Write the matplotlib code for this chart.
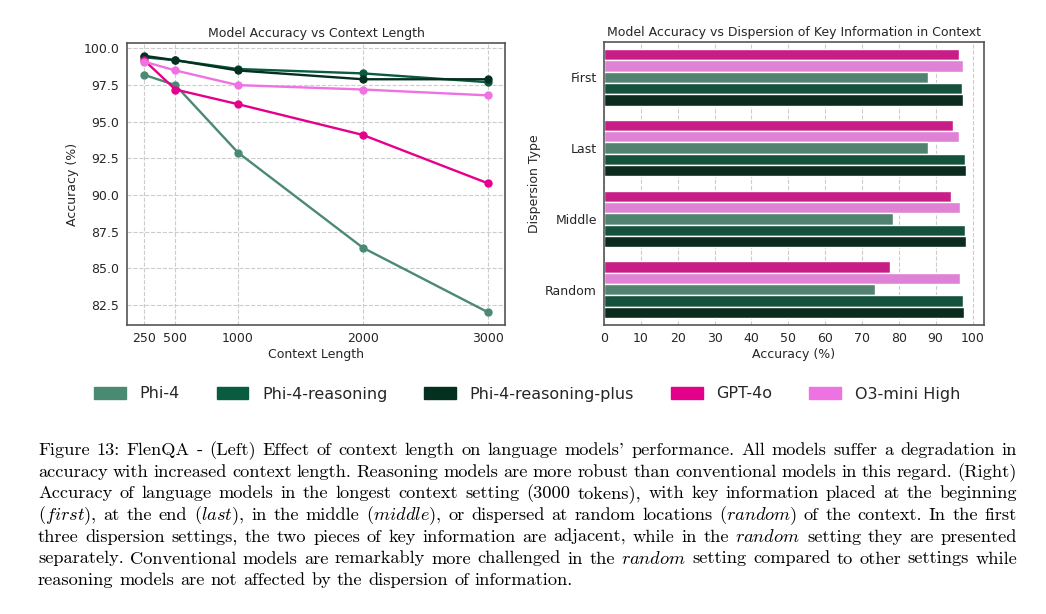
import numpy as np
import matplotlib
matplotlib.use('Agg')
import matplotlib.pyplot as plt
import seaborn as sns

W, H = 1046, 614

# ---- data ----
context_lengths = [250, 500, 1000, 2000, 3000]
acc_phi4 = [98.2, 97.5, 92.9, 86.4, 82.0]
acc_phi4_reasoning = [99.4, 99.2, 98.6, 98.3, 97.7]
acc_phi4_reasoning_plus = [99.5, 99.2, 98.5, 97.9, 97.9]
acc_gpt4o = [99.2, 97.2, 96.2, 94.1, 90.8]
acc_o3mini = [99.1, 98.5, 97.5, 97.2, 96.8]

dispersion_types = ['First', 'Last', 'Middle', 'Random']
disp_gpt4o = [96.4, 94.7, 94.2, 77.5]
disp_o3mini = [97.3, 96.4, 96.7, 96.6]
disp_phi4 = [87.8, 87.8, 78.3, 73.5]
disp_phi4_reasoning = [97.1, 97.9, 98.0, 97.3]
disp_phi4_reasoning_plus = [97.3, 98.1, 98.2, 97.6]

model_names = ['Phi-4', 'Phi-4-reasoning', 'Phi-4-reasoning-plus', 'GPT-4o', 'O3-mini High']
model_colors = ['#4a8a72', '#0a5c40', '#04301f', '#e5008c', '#ee72e2']

caption_lines = [
    "Figure 13: FlenQA - (Left) Effect of context length on language models' performance. All models suffer a degradation in",
    "accuracy with increased context length. Reasoning models are more robust than conventional models in this regard. (Right)",
    "Accuracy of language models in the longest context setting (3000 tokens), with key information placed at the beginning",
    r"($\mathit{first}$), at the end ($\mathit{last}$), in the middle ($\mathit{middle}$), or dispersed at random locations ($\mathit{random}$) of the context. In the first",
    r"three dispersion settings, the two pieces of key information are adjacent, while in the $\mathit{random}$ setting they are presented",
    r"separately. Conventional models are remarkably more challenged in the $\mathit{random}$ setting compared to other settings while",
    "reasoning models are not affected by the dispersion of information.",
]

sns.set_style('white')
plt.rcParams['font.family'] = ['DejaVu Sans']
plt.rcParams['mathtext.fontset'] = 'cm'
plt.rcParams['axes.edgecolor'] = '#555555'
plt.rcParams['axes.linewidth'] = 1.2
plt.rcParams['text.color'] = '#262626'
plt.rcParams['xtick.color'] = '#262626'
plt.rcParams['ytick.color'] = '#262626'

fig = plt.figure(figsize=(W / 100, H / 100), dpi=100)
ax1 = fig.add_axes([127 / W, 1 - 325 / H, 378 / W, 282 / H])
ax2 = fig.add_axes([604 / W, 1 - 325 / H, 380 / W, 283 / H])

# ---- left: accuracy vs context length ----
series = [acc_phi4, acc_phi4_reasoning, acc_phi4_reasoning_plus, acc_gpt4o, acc_o3mini]
for vals, name, col in zip(series, model_names, model_colors):
    ax1.plot(context_lengths, vals, marker='o', markersize=5, lw=1.7, color=col, label=name)
ax1.set_xticks(context_lengths)
ax1.grid(True, linestyle='--', color='#cccccc', linewidth=0.8)
ax1.set_title('Model Accuracy vs Context Length', fontsize=9, pad=4)
ax1.set_xlabel('Context Length', fontsize=9, labelpad=2)
ax1.set_ylabel('Accuracy (%)', fontsize=9, labelpad=3)
ax1.tick_params(labelsize=9, length=0)
ax1.tick_params(axis='x', pad=5)
ax1.tick_params(axis='y', pad=5.5)

# ---- right: accuracy vs dispersion ----
bar_series = [disp_gpt4o, disp_o3mini, disp_phi4, disp_phi4_reasoning, disp_phi4_reasoning_plus]
bar_colors = [model_colors[3], model_colors[4], model_colors[0], model_colors[1], model_colors[2]]
n = len(bar_series)
bh = 0.8 / n
ypos = np.arange(len(dispersion_types))
for i, (vals, col) in enumerate(zip(bar_series, bar_colors)):
    ax2.barh(ypos - 0.4 + bh * (i + 0.5), vals, height=bh, color=sns.desaturate(col, 0.75),
             edgecolor='white', linewidth=1, zorder=2)
ax2.set_yticks(ypos)
ax2.set_yticklabels(dispersion_types)
ax2.set_ylim(3.5, -0.5)
ax2.set_xticks(np.arange(0, 101, 10))
ax2.xaxis.grid(True, linestyle='--', color='#cccccc', linewidth=0.8, zorder=0)
ax2.set_axisbelow(True)
ax2.set_title('Model Accuracy vs Dispersion of Key Information in Context', fontsize=9, pad=4)
ax2.set_xlabel('Accuracy (%)', fontsize=9, labelpad=2)
ax2.set_ylabel('Dispersion Type', fontsize=9, labelpad=3)
ax2.tick_params(labelsize=9, length=0)
ax2.tick_params(axis='x', pad=5)
ax2.tick_params(axis='y', pad=5)

# ---- shared legend ----
handles = [plt.Rectangle((0, 0), 1, 1, color=c) for c in model_colors]
fig.legend(handles, model_names, loc='center', bbox_to_anchor=(527 / W, 1 - 394 / H), ncol=5,
           frameon=False, fontsize=11.5, columnspacing=2.3, handletextpad=0.85)

# ---- caption, justified ----
fig.canvas.draw()
rend = fig.canvas.get_renderer()
x_left, x_right = 38, 1017
for i, line in enumerate(caption_lines):
    y = 1 - (455 + i * 21.7) / H
    words = line.split(' ')
    texts = [fig.text(0, y, w, fontsize=13.2, family=['cmr10', 'DejaVu Serif'], va='baseline', color='black')
             for w in words]
    widths = [t.get_window_extent(rend).width for t in texts]
    if i < len(caption_lines) - 1:
        gap = (x_right - x_left - sum(widths)) / (len(words) - 1)
    else:
        gap = 6.0
    x = x_left
    for t, w in zip(texts, widths):
        t.set_x(x / W)
        x += w + gap

fig.savefig('out.png', dpi=100)
